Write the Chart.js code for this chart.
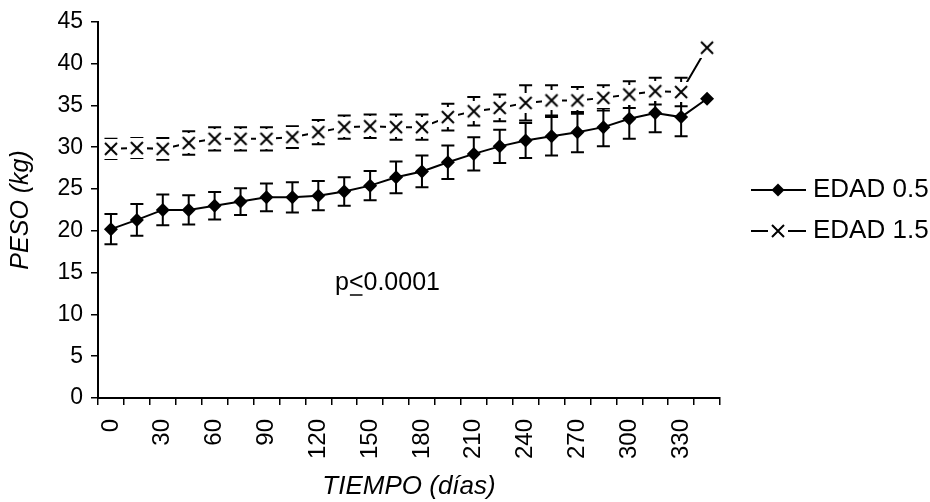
<!DOCTYPE html>
<html>
<head>
<meta charset="utf-8">
<script src="https://cdn.jsdelivr.net/npm/chart.js@4.4.1/dist/chart.umd.min.js"></script>
<style>
  html, body { margin: 0; padding: 0; background: #fff; }
  #wrap { width: 930px; height: 502px; }
</style>
</head>
<body>
<div id="wrap"><canvas id="grafico" width="930" height="502"></canvas></div>
<script>
// dias de medicion (cada 15 dias), se rotula uno de cada dos
const dias = ['0', '15', '30', '45', '60', '75', '90', '105', '120', '135', '150', '165',
              '180', '195', '210', '225', '240', '255', '270', '285', '300', '315', '330', '345'];
const rotulosX = ['0', '30', '60', '90', '120', '150', '180', '210', '240', '270', '300', '330'];
const ticksY = [0, 5, 10, 15, 20, 25, 30, 35, 40, 45];

// peso medio (kg) y error
const edad05 = [20.2, 21.3, 22.5, 22.5, 23.0, 23.5, 24.0, 24.0, 24.2, 24.7, 25.4, 26.4,
                27.1, 28.2, 29.2, 30.1, 30.8, 31.3, 31.8, 32.4, 33.4, 34.1, 33.6, 35.8];
const error05 = [1.8, 1.9, 1.85, 1.75, 1.65, 1.6, 1.65, 1.8, 1.75, 1.7, 1.75, 1.9,
                 1.9, 2.0, 2.0, 2.0, 2.1, 2.3, 2.4, 2.3, 2.4, 2.3, 2.3, 0];
const edad15 = [29.8, 29.9, 29.8, 30.5, 31.0, 31.0, 31.0, 31.2, 31.8, 32.4, 32.5, 32.4,
                32.4, 33.6, 34.3, 34.7, 35.3, 35.6, 35.6, 35.9, 36.3, 36.7, 36.6, 41.9];
const error15 = [1.2, 1.2, 1.3, 1.4, 1.4, 1.4, 1.4, 1.3, 1.45, 1.4, 1.4, 1.5,
                 1.5, 1.6, 1.7, 1.6, 2.1, 1.8, 1.6, 1.5, 1.6, 1.6, 1.7, 0];

const FUENTE = '"Liberation Sans", Arial, sans-serif';

// marcador X con fondo blanco (como en Excel)
function crearCruz() {
    const c = document.createElement('canvas');
    c.width = 20;
    c.height = 20;
    const g = c.getContext('2d');
    g.fillStyle = '#fff';
    g.fillRect(0, 0, 20, 20);
    g.strokeStyle = '#000';
    g.lineWidth = 2;
    g.beginPath();
    g.moveTo(4, 4); g.lineTo(16, 16);
    g.moveTo(16, 4); g.lineTo(4, 16);
    g.stroke();
    return c;
}
const cruz = crearCruz();

function dibujarRombo(ctx, x, y, r) {
    ctx.beginPath();
    ctx.moveTo(x, y - r);
    ctx.lineTo(x + r, y);
    ctx.lineTo(x, y + r);
    ctx.lineTo(x - r, y);
    ctx.closePath();
    ctx.fill();
}

// barras de error
const barrasError = {
    id: 'barrasError',
    beforeDatasetsDraw(chart) {
        const ctx = chart.ctx;
        const escalaY = chart.scales.y;
        const errores = [error05, error15];
        ctx.save();
        ctx.strokeStyle = '#000';
        ctx.lineWidth = 2;
        errores.forEach(function (errs, d) {
            const valores = chart.data.datasets[d].data;
            chart.getDatasetMeta(d).data.forEach(function (pt, i) {
                if (!errs[i]) return;
                const arriba = escalaY.getPixelForValue(valores[i] + errs[i]);
                const abajo = escalaY.getPixelForValue(valores[i] - errs[i]);
                ctx.beginPath();
                ctx.moveTo(pt.x, arriba); ctx.lineTo(pt.x, abajo);
                ctx.moveTo(pt.x - 6.5, arriba); ctx.lineTo(pt.x + 6.5, arriba);
                ctx.moveTo(pt.x - 6.5, abajo); ctx.lineTo(pt.x + 6.5, abajo);
                ctx.stroke();
            });
        });
        ctx.restore();
    }
};

// leyenda y texto p
const extras = {
    id: 'extras',
    afterDraw(chart) {
        const ctx = chart.ctx;
        ctx.save();
        ctx.fillStyle = '#000';
        ctx.strokeStyle = '#000';
        ctx.lineWidth = 2;
        // fila 1
        ctx.beginPath(); ctx.moveTo(751, 190); ctx.lineTo(806, 190); ctx.stroke();
        dibujarRombo(ctx, 778, 190, 6.5);
        // fila 2
        ctx.beginPath(); ctx.moveTo(751, 231); ctx.lineTo(806, 231); ctx.stroke();
        ctx.drawImage(cruz, 768, 221);
        ctx.font = '26px ' + FUENTE;
        ctx.textBaseline = 'middle';
        ctx.textAlign = 'left';
        ctx.fillText(chart.data.datasets[0].label, 813, 190);
        ctx.fillText(chart.data.datasets[1].label, 813, 231);

        // p<0.0001 con el signo subrayado
        ctx.font = '25px ' + FUENTE;
        const x0 = 335, y0 = 283;
        ctx.fillText('p', x0, y0);
        const wp = ctx.measureText('p').width;
        ctx.fillText('<', x0 + wp, y0);
        const wm = ctx.measureText('<').width;
        ctx.fillText('0.0001', x0 + wp + wm, y0);
        ctx.lineWidth = 1.5;
        ctx.beginPath();
        ctx.moveTo(x0 + wp + 1, y0 + 12); ctx.lineTo(x0 + wp + wm - 1, y0 + 12);
        ctx.stroke();
        ctx.restore();
    }
};

new Chart(document.getElementById('grafico'), {
    type: 'line',
    data: {
        labels: dias,
        datasets: [{
            label: 'EDAD 0.5',
            data: edad05,
            borderColor: '#000',
            backgroundColor: '#000',
            borderWidth: 2,
            pointStyle: 'rectRot',
            pointRadius: 7,
            pointBorderWidth: 0,
            tension: 0
        }, {
            label: 'EDAD 1.5',
            data: edad15,
            borderColor: '#000',
            backgroundColor: '#000',
            borderWidth: 2,
            pointStyle: cruz,
            pointRadius: 10,
            tension: 0
        }]
    },
    options: {
        responsive: false,
        animation: false,
        layout: { padding: { top: 19, right: 210, left: 0, bottom: 0 } },
        plugins: {
            legend: { display: false },
            tooltip: { enabled: false }
        },
        scales: {
            x: {
                type: 'category',
                offset: true,
                grid: { display: true, drawOnChartArea: false, offset: true, tickLength: 7, color: '#000', lineWidth: 1.5 },
                border: { display: true, color: '#000', width: 2 },
                ticks: {
                    autoSkip: false,
                    minRotation: 90,
                    maxRotation: 90,
                    padding: 14,
                    color: '#000',
                    font: { family: FUENTE, size: 24 },
                    callback: function (v, i) {
                        return rotulosX.includes(dias[i]) ? dias[i] : '';
                    }
                },
                title: {
                    display: true,
                    text: 'TIEMPO (días)',
                    color: '#000',
                    font: { family: FUENTE, size: 26, style: 'italic' },
                    padding: { top: 0, bottom: 0 }
                },
                afterFit: function (scale) { scale.height = 104; }
            },
            y: {
                min: 0,
                max: 45,
                grid: { display: true, drawOnChartArea: false, tickLength: 7, color: '#000', lineWidth: 1.5 },
                border: { display: true, color: '#000', width: 2 },
                afterBuildTicks: function (scale) {
                    scale.ticks = ticksY.map(function (v) { return { value: v }; });
                },
                ticks: {
                    padding: 8,
                    color: '#000',
                    font: { family: FUENTE, size: 23 }
                },
                title: {
                    display: true,
                    text: 'PESO (kg)',
                    color: '#000',
                    font: { family: FUENTE, size: 25, style: 'italic' },
                    padding: { top: 6, bottom: 0 }
                },
                afterFit: function (scale) { scale.width = 98; }
            }
        }
    },
    plugins: [barrasError, extras]
});
</script>
</body>
</html>
